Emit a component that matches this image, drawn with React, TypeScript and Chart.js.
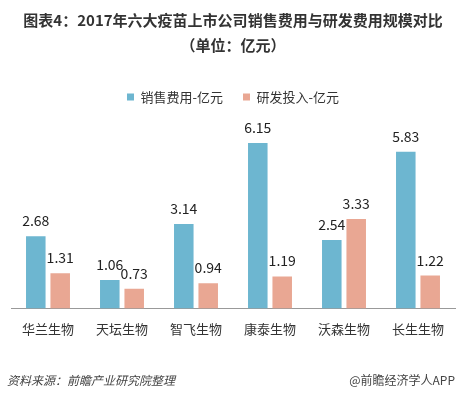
import React, { useEffect, useRef } from 'react';
import { Chart, registerables } from 'chart.js';

Chart.register(...registerables);

const categories = ['华兰生物', '天坛生物', '智飞生物', '康泰生物', '沃森生物', '长生生物'];
const salesExpense = [2.68, 1.06, 3.14, 6.15, 2.54, 5.83];
const rdExpense = [1.31, 0.73, 0.94, 1.19, 3.33, 1.22];
const seriesNames = ['销售费用-亿元', '研发投入-亿元'];
const titleLines = ['图表4：2017年六大疫苗上市公司销售费用与研发费用规模对比', '（单位：亿元）'];
const sourceNote = '资料来源：前瞻产业研究院整理';
const creditNote = '@前瞻经济学人APP';

const FONT = '"Noto Sans CJK SC", "Microsoft YaHei", sans-serif';

const valueLabels = {
  id: 'valueLabels',
  afterDatasetsDraw(chart: any) {
    const ctx = chart.ctx;
    ctx.save();
    ctx.font = `14px ${FONT}`;
    ctx.fillStyle = '#222';
    ctx.textAlign = 'center';
    ctx.textBaseline = 'alphabetic';
    chart.data.datasets.forEach((ds: any, i: number) => {
      const meta = chart.getDatasetMeta(i);
      meta.data.forEach((bar: any, j: number) => {
        ctx.fillText(ds.data[j].toFixed(2), bar.x, bar.y - 10);
      });
    });
    ctx.restore();
  },
};

const footer = {
  id: 'footer',
  afterDraw(chart: any) {
    const ctx = chart.ctx;
    ctx.save();
    ctx.textBaseline = 'middle';
    ctx.fillStyle = '#444';
    ctx.font = `italic 12px ${FONT}`;
    ctx.textAlign = 'left';
    ctx.fillText(sourceNote, 7, 380);
    ctx.font = `12px ${FONT}`;
    ctx.textAlign = 'right';
    ctx.fillText(creditNote, 455, 380);
    ctx.restore();
  },
};

export default function App() {
  const ref = useRef<HTMLCanvasElement>(null);
  useEffect(() => {
    if (!ref.current) return;
    const chart = new Chart(ref.current, {
      type: 'bar',
      data: {
        labels: categories,
        datasets: [
          { label: seriesNames[0], data: salesExpense, backgroundColor: '#6DB6D0', barPercentage: 0.8, categoryPercentage: 0.66 },
          { label: seriesNames[1], data: rdExpense, backgroundColor: '#E9A793', barPercentage: 0.8, categoryPercentage: 0.66 },
        ],
      },
      options: {
        responsive: false,
        animation: false,
        devicePixelRatio: 1,
        layout: { padding: { left: 11, right: 8, top: 0, bottom: 48 } },
        plugins: {
          title: {
            display: true,
            text: titleLines,
            color: '#333',
            font: { family: FONT, size: 15, weight: 'bold', lineHeight: 1.667 },
            padding: { top: 7.5, bottom: 13 },
          },
          legend: {
            display: true,
            position: 'top',
            labels: {
              boxWidth: 7,
              boxHeight: 7,
              padding: 20,
              color: '#333',
              font: { family: FONT, size: 13 },
            },
          },
          tooltip: { enabled: false },
        },
        scales: {
          x: {
            grid: { display: true, drawOnChartArea: false, drawTicks: false },
            border: { display: true, color: '#999', width: 1 },
            ticks: { color: '#333', font: { family: FONT, size: 13 }, padding: 13 },
          },
          y: {
            display: false,
            min: 0,
            max: 7.25,
          },
        },
      },
      plugins: [valueLabels, footer],
    });
    return () => chart.destroy();
  }, []);
  return (
    <div style={{ position: 'absolute', left: 0, top: 0, width: 463, height: 398, background: '#fff' }}>
      <canvas ref={ref} width={463} height={398} />
    </div>
  );
}
